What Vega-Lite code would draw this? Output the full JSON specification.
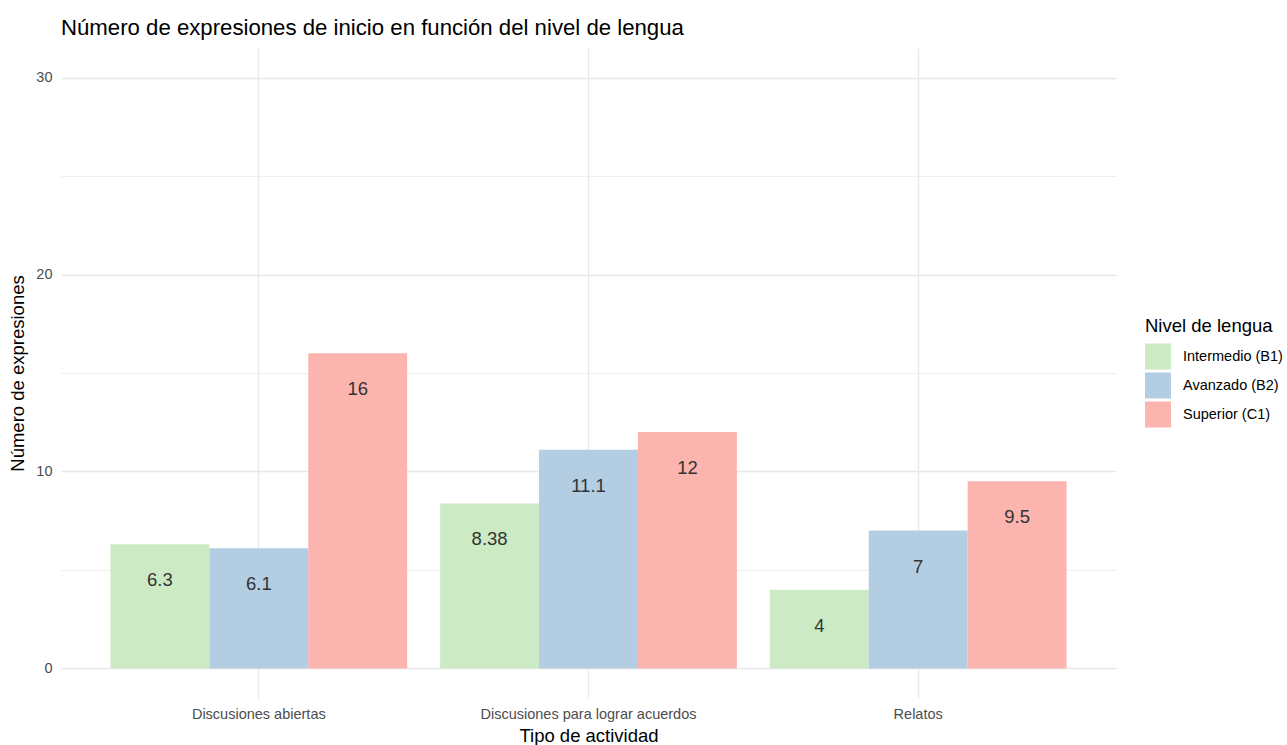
{
  "$schema": "https://vega.github.io/schema/vega-lite/v6.json",
  "width": 1055,
  "height": 650,
  "autosize": {"type": "none"},
  "padding": {"left": 61, "top": 48, "right": 171, "bottom": 47},
  "background": "white",
  "config": {
    "font": "Liberation Sans",
    "view": {"stroke": null},
    "axis": {"domain": false, "ticks": false, "labelColor": "#4d4d4d", "labelFontSize": 14.5, "titleFontSize": 18.5, "titleFontWeight": "normal", "titleColor": "#000000", "gridColor": "#e8e8e8", "gridWidth": 1.4, "labelLimit": 0}
  },
  "title": {"text": "Número de expresiones de inicio en función del nivel de lengua", "anchor": "start", "frame": "group", "fontSize": 22.2, "fontWeight": "normal", "color": "#000000", "offset": 9, "dx": 0},
  "data": {
    "values": [
      {"actividad": "Discusiones abiertas", "nivel": "Intermedio (B1)", "value": 6.3},
      {"actividad": "Discusiones abiertas", "nivel": "Avanzado (B2)", "value": 6.1},
      {"actividad": "Discusiones abiertas", "nivel": "Superior (C1)", "value": 16},
      {"actividad": "Discusiones para lograr acuerdos", "nivel": "Intermedio (B1)", "value": 8.38},
      {"actividad": "Discusiones para lograr acuerdos", "nivel": "Avanzado (B2)", "value": 11.1},
      {"actividad": "Discusiones para lograr acuerdos", "nivel": "Superior (C1)", "value": 12},
      {"actividad": "Relatos", "nivel": "Intermedio (B1)", "value": 4},
      {"actividad": "Relatos", "nivel": "Avanzado (B2)", "value": 7},
      {"actividad": "Relatos", "nivel": "Superior (C1)", "value": 9.5}
    ]
  },
  "encoding": {
    "x": {"field": "actividad", "type": "nominal", "sort": null,
      "scale": {"paddingInner": 0.1, "paddingOuter": 0.15},
      "axis": {"title": "Tipo de actividad", "labelAngle": 0, "labelPadding": 9, "titlePadding": 6, "bandPosition": 0.5, "grid": true}},
    "xOffset": {"field": "nivel", "type": "nominal", "sort": ["Intermedio (B1)", "Avanzado (B2)", "Superior (C1)"], "scale": {"paddingInner": 0, "paddingOuter": 0}},
    "y": {"field": "value", "type": "quantitative",
      "scale": {"domain": [-1.5, 31.5], "nice": false, "zero": false},
      "axis": {"title": "Número de expresiones", "values": [0, 5, 10, 15, 20, 25, 30], "labelExpr": "datum.value % 10 === 0 ? datum.label : ''", "labelPadding": 9, "titlePadding": 8,
        "gridWidth": {"condition": {"test": "datum.value % 10 !== 0", "value": 0.7}, "value": 1.4}}}
  },
  "layer": [
    {
      "mark": {"type": "bar"},
      "encoding": {
        "y2": {"datum": 0},
        "color": {"field": "nivel", "type": "nominal", "sort": ["Intermedio (B1)", "Avanzado (B2)", "Superior (C1)"],
          "scale": {"range": ["#CCEBC5", "#B3CDE3", "#FBB4AE"]},
          "legend": {"title": "Nivel de lengua", "orient": "none", "legendX": 1084, "legendY": 269, "titleFontSize": 18.5, "titleFontWeight": "normal", "titleColor": "#000000", "labelFontSize": 14.5, "labelColor": "#000000", "symbolType": "square", "symbolSize": 676, "symbolStrokeWidth": 0, "rowPadding": 3, "labelOffset": 12, "titlePadding": 8}}
      }
    },
    {
      "mark": {"type": "text", "baseline": "middle", "dy": 36, "fontSize": 18.5, "color": "#333333"},
      "encoding": {
        "text": {"field": "value", "type": "nominal"}
      }
    }
  ]
}
